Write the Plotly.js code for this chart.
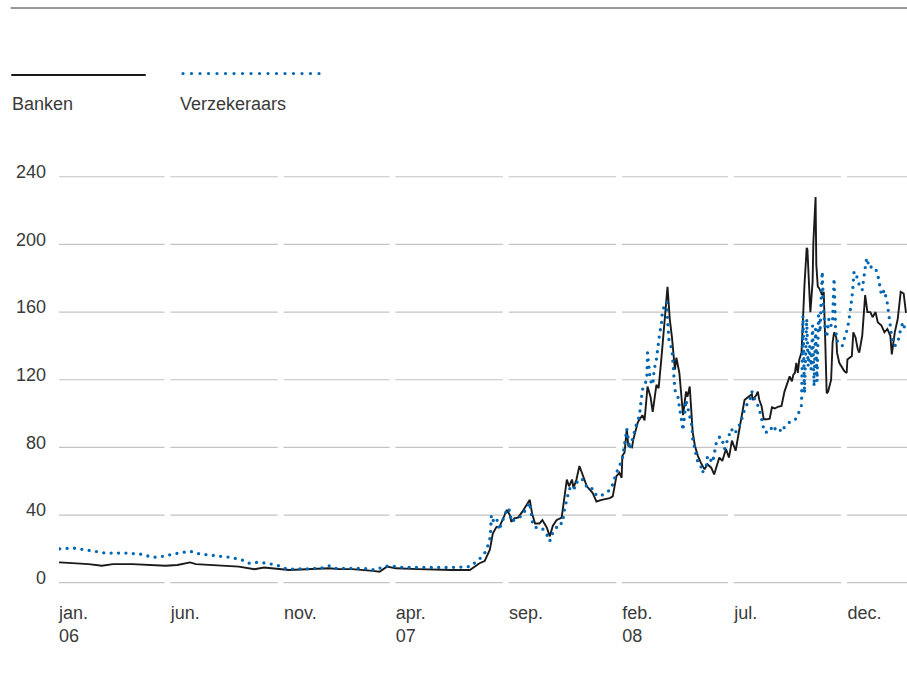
<!DOCTYPE html>
<html><head><meta charset="utf-8">
<script src="https://cdn.plot.ly/plotly-3.0.1.min.js"></script>
<style>
html,body{margin:0;padding:0;background:#fff;}
#chart{width:907px;height:682px;}
.js-line, .shapelayer path {stroke-linecap: round !important;}
</style></head><body><div id="chart"></div>
<script>
// ---- data ----
const seriesNames = ['Banken', 'Verzekeraars'];

const bankDates = [
'2006-01-02','2006-01-20','2006-02-10','2006-02-28','2006-03-15','2006-04-10','2006-05-05','2006-05-25','2006-06-10','2006-06-27',
'2006-07-05','2006-08-01','2006-09-01','2006-09-22','2006-10-05','2006-11-08','2006-12-01','2007-01-01','2007-01-15','2007-02-01',
'2007-03-01','2007-03-10','2007-03-20','2007-04-01','2007-05-01','2007-06-01','2007-06-15','2007-07-10','2007-07-15','2007-07-23',
'2007-07-30','2007-08-06','2007-08-10','2007-08-15','2007-08-19','2007-08-23','2007-08-29','2007-09-02','2007-09-04','2007-09-08',
'2007-09-13','2007-09-19','2007-09-25','2007-09-29','2007-10-02','2007-10-06','2007-10-12','2007-10-16','2007-10-22','2007-10-26',
'2007-10-30','2007-11-04','2007-11-11','2007-11-15','2007-11-18','2007-11-21','2007-11-25','2007-11-27','2007-12-01','2007-12-05',
'2007-12-09','2007-12-15','2007-12-23','2007-12-28','2008-01-04','2008-01-15','2008-01-19','2008-01-24','2008-01-28','2008-01-31',
'2008-02-01','2008-02-04','2008-02-07','2008-02-09','2008-02-14','2008-02-16','2008-02-22','2008-02-28','2008-03-02','2008-03-06',
'2008-03-10','2008-03-13','2008-03-18','2008-03-21','2008-03-25','2008-03-28','2008-03-31','2008-04-02','2008-04-05','2008-04-08',
'2008-04-12','2008-04-14','2008-04-18','2008-04-23','2008-04-27','2008-04-29','2008-05-02','2008-05-06','2008-05-09','2008-05-13',
'2008-05-17','2008-05-22','2008-05-26','2008-05-31','2008-06-04','2008-06-07','2008-06-11','2008-06-15','2008-06-20','2008-06-24',
'2008-06-28','2008-07-03','2008-07-08','2008-07-12','2008-07-15','2008-07-19','2008-07-25','2008-07-26','2008-07-31','2008-08-02',
'2008-08-04','2008-08-07','2008-08-10','2008-08-14','2008-08-18','2008-08-21','2008-08-25','2008-08-29','2008-09-03','2008-09-07',
'2008-09-11','2008-09-14','2008-09-17','2008-09-19','2008-09-21','2008-09-23','2008-09-25','2008-09-27','2008-09-30','2008-10-01',
'2008-10-04','2008-10-07','2008-10-08','2008-10-11','2008-10-12','2008-10-15','2008-10-16','2008-10-19','2008-10-20','2008-10-22',
'2008-10-24','2008-10-28','2008-10-30','2008-11-01','2008-11-03','2008-11-05','2008-11-09','2008-11-11','2008-11-13','2008-11-16',
'2008-11-17','2008-11-20','2008-11-23','2008-11-27','2008-11-30','2008-12-01','2008-12-07','2008-12-09','2008-12-12','2008-12-15',
'2008-12-17','2008-12-21','2008-12-25','2008-12-28','2009-01-01','2009-01-04','2009-01-08','2009-01-11','2009-01-16','2009-01-20',
'2009-01-24','2009-01-28','2009-01-30','2009-02-03','2009-02-07','2009-02-11','2009-02-15','2009-02-18'
];
const bankValues = [
12,11.5,11,10,11,11,10.5,10,10.5,12,
11,10.5,9.5,8,9,7.5,8,8.5,8,8,
7,6.5,9.5,8.5,8,7.5,7.5,7.5,9,11.5,
12.8,19.5,29,33,33,37,43,40,36,38,
38.5,42,46,49,41,35,35,37,32.5,27.4,
33.6,37,38.5,53,61,57,61,56,61,69,
64,57,53,48,49,50,51,63,65,62,
75,77,91,81,80,85,95,99,96,116,
110,101,117,115,134,150,168,175,156,145,
126,133,124,99,113,110,116,89,81,75,
71,67,70,68,64,69,74,72,79,74,
84,78,90,99,108,109.5,111.4,108,111,113,
108,104.5,96.6,96.6,97,103.7,103,104,104.5,113,
118,122,119,123,124,130,124,132,136,148,
176,198,197,168,160,178,201,228,188,175,
174,170,172,144,112,113,120,142,148,145,
136,130,128,125,124,132,134,148,145,138,
136,146,170,160,160,157,160,154,152,148,
150,146,135,148,156,172,171,160
];

const insDates = [
'2006-01-02','2006-01-20','2006-02-05','2006-02-20','2006-03-05','2006-04-01','2006-04-20','2006-05-08','2006-05-20','2006-06-05',
'2006-06-27','2006-07-10','2006-08-01','2006-08-20','2006-09-05','2006-09-15','2006-09-25','2006-10-10','2006-10-25','2006-11-05',
'2006-12-01','2006-12-20','2007-01-01','2007-01-10','2007-02-15','2007-03-05','2007-03-15','2007-03-25','2007-04-10','2007-05-15',
'2007-06-15','2007-07-10','2007-07-23','2007-07-30','2007-08-03','2007-08-06','2007-08-07','2007-08-08','2007-08-12','2007-08-16',
'2007-08-19','2007-08-22','2007-08-26','2007-08-29','2007-09-02','2007-09-04','2007-09-11','2007-09-18','2007-09-25','2007-09-29',
'2007-10-03','2007-10-10','2007-10-16','2007-10-22','2007-10-26','2007-10-28','2007-11-04','2007-11-06','2007-11-12','2007-11-15',
'2007-11-18','2007-11-21','2007-11-25','2007-11-29','2007-12-03','2007-12-09','2007-12-15','2007-12-21','2007-12-24','2008-01-01',
'2008-01-10','2008-01-17','2008-01-24','2008-01-28','2008-02-01','2008-02-04','2008-02-07','2008-02-11','2008-02-15','2008-02-20',
'2008-02-24','2008-02-27','2008-02-28','2008-03-05','2008-03-06','2008-03-09','2008-03-11','2008-03-13','2008-03-15','2008-03-18',
'2008-03-19','2008-03-22','2008-03-25','2008-03-26','2008-03-29','2008-04-01','2008-04-02','2008-04-04','2008-04-08','2008-04-09',
'2008-04-12','2008-04-16','2008-04-18','2008-04-21','2008-04-23','2008-04-27','2008-04-29','2008-05-05','2008-05-06','2008-05-09',
'2008-05-11','2008-05-13','2008-05-18','2008-05-19','2008-05-25','2008-05-26','2008-06-02','2008-06-07','2008-06-11','2008-06-14',
'2008-06-18','2008-06-22','2008-06-25','2008-06-27','2008-07-02','2008-07-06','2008-07-11','2008-07-12','2008-07-18','2008-07-19',
'2008-07-22','2008-07-25','2008-07-26','2008-07-29','2008-07-31','2008-08-02','2008-08-04','2008-08-07','2008-08-11','2008-08-18',
'2008-08-22','2008-08-27','2008-08-31','2008-09-03','2008-09-07','2008-09-14','2008-09-21','2008-09-25','2008-09-27','2008-09-30',
'2008-10-02','2008-10-04','2008-10-07','2008-10-09','2008-10-11','2008-10-13','2008-10-15','2008-10-17','2008-10-19','2008-10-21',
'2008-10-23','2008-10-25','2008-10-28','2008-10-30','2008-11-01','2008-11-03','2008-11-06','2008-11-09','2008-11-11','2008-11-13',
'2008-11-15','2008-11-17','2008-11-21','2008-11-24','2008-11-28','2008-12-01','2008-12-04','2008-12-08','2008-12-10','2008-12-13',
'2008-12-17','2008-12-21','2008-12-24','2008-12-27','2008-12-31','2009-01-03','2009-01-08','2009-01-12','2009-01-16','2009-01-20',
'2009-01-24','2009-01-27','2009-01-30','2009-02-03','2009-02-07','2009-02-11','2009-02-14','2009-02-18'
];
const insValues = [
20,20.5,19.5,18.5,17.5,17.5,17,15,15.5,17,
18.6,17,16,15,13.5,11.5,12,11.5,10,8,
8.2,8.5,10,8.5,8.5,7.5,9.5,10,9,9,
9,9.5,14,17.5,21.5,26,30,40,35,37,
31,36,39,44,42.5,36,38,39.3,44,47.4,
34,32,32,28.4,24.5,28,32.5,35,35,44,
49,55,57.5,55.7,61,61,56.7,56.7,53,51,
53,55.6,65,69,73,82,91,79,86,93.6,
98.6,108,114,120,136,123,118,117,126,132,
136,146,154,160,164,166,156,143,138,130,
114,110,104.5,98.6,90,108,104,92.6,85,79,
75,71,68,65,70,75,71,83,86,86,
79,85,89,91,88,92,95,99,105,107,
108,113,112,108,107,104.5,102.5,97,89,89,
93,90,91,89,92,95,96,99,102,105,
158,112,156,128,140,126,152,116,150,119,
158,148,184,160,150,145,156,152,155,180,
150,143,142,140,146,150,158,172,184,182,
176,173,183,192,186,187,186,180,170,173,
165,155,145,140,142,150,154,148
];

const tickDates = ['2006-01-01','2006-06-01','2006-11-01','2007-04-01','2007-09-01','2008-02-01','2008-07-01','2008-12-01'];
const tickLabels = ['jan.<br>06','jun.','nov.','apr.<br>07','sep.','feb.<br>08','jul.','dec.'];
const yTicks = [0, 40, 80, 120, 160, 200, 240];

// ---- layout helpers ----
const W = 907, H = 682;
const M = {l: 59, r: 0, t: 170, b: 90};
const PW = W - M.l - M.r, PH = H - M.t - M.b;
const xRange = ['2006-01-01', '2009-02-19 12:00'];
const px2x = p => (p - M.l) / PW;
const px2y = p => (H - M.b - p) / PH;
const DAY = 86400000;
const gapDays = 9;
const fmt = ms => new Date(ms).toISOString().replace('T', ' ').replace('Z', '');

const shapes = [];
// segmented gridlines
yTicks.forEach(v => {
  tickDates.forEach((d, i) => {
    const start = d;
    const end = (i < tickDates.length - 1)
      ? fmt(new Date(tickDates[i + 1] + 'T00:00:00Z').getTime() - gapDays * DAY)
      : xRange[1];
    shapes.push({type: 'line', xref: 'x', yref: 'y', x0: start, x1: end, y0: v, y1: v,
      layer: 'below', line: {color: '#c4c4c4', width: 1.2}});
  });
});
// top rule
shapes.push({type: 'line', xref: 'paper', yref: 'paper', x0: px2x(11), x1: 1, y0: px2y(8), y1: px2y(8),
  line: {color: '#333333', width: 1}});
// legend samples
shapes.push({type: 'line', xref: 'paper', yref: 'paper', x0: px2x(12), x1: px2x(145), y0: px2y(75), y1: px2y(75),
  line: {color: '#1a1a1a', width: 2}});
shapes.push({type: 'line', xref: 'paper', yref: 'paper', x0: px2x(183), x1: px2x(321), y0: px2y(73.5), y1: px2y(73.5),
  line: {color: '#0066b3', width: 3.2, dash: '0px,8.5px'}});

const annotations = [
  {text: seriesNames[0], xref: 'paper', yref: 'paper', x: px2x(10), y: px2y(103.5), xanchor: 'left', yanchor: 'middle', showarrow: false},
  {text: seriesNames[1], xref: 'paper', yref: 'paper', x: px2x(178), y: px2y(103.5), xanchor: 'left', yanchor: 'middle', showarrow: false}
];

const traces = [
  {x: bankDates, y: bankValues, type: 'scatter', mode: 'lines', name: seriesNames[0],
   line: {color: '#1a1a1a', width: 1.9}, hoverinfo: 'skip'},
  {x: insDates, y: insValues, type: 'scatter', mode: 'lines', name: seriesNames[1],
   line: {color: '#0066b3', width: 3.3, dash: '0px,7.4px'}, hoverinfo: 'skip'}
];

const layout = {
  width: W, height: H, margin: M,
  paper_bgcolor: '#ffffff', plot_bgcolor: 'rgba(0,0,0,0)',
  showlegend: false,
  font: {family: '"Liberation Sans", Arial, sans-serif', size: 18, color: '#3a3a3a'},
  xaxis: {type: 'date', range: xRange, tickmode: 'array', tickvals: tickDates, ticktext: tickLabels,
    showgrid: false, zeroline: false, showline: false, ticks: '', ticklabelposition: 'outside right',
    ticklabelstandoff: 8, fixedrange: true},
  yaxis: {range: [-5.5, 244], tickmode: 'array', tickvals: yTicks, showgrid: false, zeroline: false,
    showline: false, ticks: '', ticklabelstandoff: 12, ticklabelshift: -5, fixedrange: true},
  shapes: shapes,
  annotations: annotations
};

Plotly.newPlot('chart', traces, layout, {staticPlot: true, displayModeBar: false});
</script>
</body></html>
